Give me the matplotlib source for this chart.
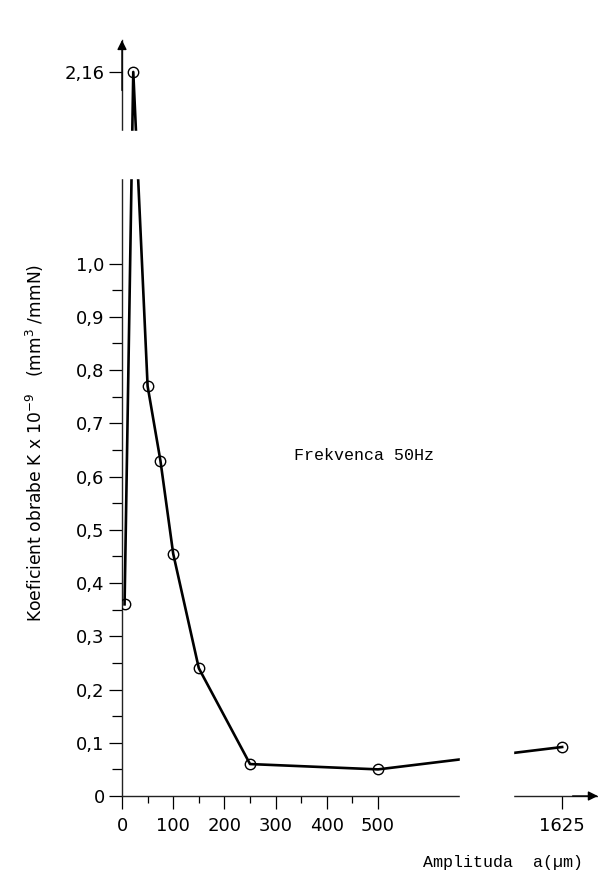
import numpy as np
import matplotlib
matplotlib.use('Agg')
import matplotlib.pyplot as plt
from matplotlib.patches import Rectangle
from matplotlib.transforms import blended_transform_factory

# values
amplituda = [5, 22, 50, 75, 100, 150, 250, 500, 1625]      # a (um)
koeficient = [0.36, 2.16, 0.77, 0.63, 0.455, 0.24, 0.06, 0.05, 0.092]

y_ticks = [0, 0.1, 0.2, 0.3, 0.4, 0.5, 0.6, 0.7, 0.8, 0.9, 1.0, 2.16]
y_labels = ['0', '0,1', '0,2', '0,3', '0,4', '0,5', '0,6', '0,7', '0,8', '0,9', '1,0', '2,16']
y_minor = [0.05, 0.15, 0.25, 0.35, 0.45, 0.55, 0.65, 0.75, 0.85, 0.95]
x_ticks = [0, 100, 200, 300, 400, 500, 1625]
x_labels = ['0', '100', '200', '300', '400', '500', '1625']
x_minor = [50, 150, 250, 350, 450]

# broken axes: (last value before gap, first value after gap, size of gap)
X_BREAK = (660, 1529, 103.5)
Y_BREAK = (1.16, 2.05, 0.09)

narrow = ['Liberation Sans Narrow', 'DejaVu Sans']
mono = ['Liberation Mono', 'DejaVu Sans Mono']


def make_scale(lo, hi, gap):
    # squeeze the range lo..hi into a short gap, keep the rest linear
    def fwd(v):
        v = np.asarray(v, dtype=float)
        return np.where(v <= lo, v,
                        np.where(v >= hi, v - hi + lo + gap,
                                 lo + (v - lo) * gap / (hi - lo)))

    def inv(u):
        u = np.asarray(u, dtype=float)
        return np.where(u <= lo, u,
                        np.where(u >= lo + gap, u - lo - gap + hi,
                                 lo + (u - lo) * (hi - lo) / gap))
    return fwd, inv


fig = plt.figure(figsize=(5.98, 8.76), dpi=100)
ax = fig.add_axes([122 / 598, 80 / 876, 476 / 598, 756 / 876])

ax.set_xscale('function', functions=make_scale(*X_BREAK))
ax.set_yscale('function', functions=make_scale(*Y_BREAK))
ax.set_xlim(0, 1695)
ax.set_ylim(0, 2.22)

ax.plot(amplituda, koeficient, color='black', lw=1.9, marker='o', ms=7.5,
        mfc='none', mec='black', mew=1.0, zorder=3)

for s in ['top', 'right']:
    ax.spines[s].set_visible(False)
for s in ['left', 'bottom']:
    ax.spines[s].set_linewidth(1.0)
    ax.spines[s].set_color('#222222')

ax.set_xticks(x_ticks)
ax.set_xticklabels(x_labels, family=narrow, fontsize=13)
ax.set_xticks(x_minor, minor=True)
ax.set_yticks(y_ticks)
ax.set_yticklabels(y_labels, family=narrow, fontsize=13)
ax.set_yticks(y_minor, minor=True)
ax.tick_params(axis='x', which='major', length=9, width=0.9, pad=6)
ax.tick_params(axis='x', which='minor', length=5, width=0.9)
ax.tick_params(axis='y', which='major', length=9.5, width=0.9, pad=3)
ax.tick_params(axis='y', which='minor', length=7, width=0.9)

# white bands that cut the axes where they are broken
trans_y = blended_transform_factory(ax.transAxes, ax.transData)
trans_x = blended_transform_factory(ax.transData, ax.transAxes)
ax.add_patch(Rectangle((-0.03, Y_BREAK[0]), 1.06, Y_BREAK[1] - Y_BREAK[0],
                       transform=trans_y, color='white', zorder=5, clip_on=False))
ax.add_patch(Rectangle((X_BREAK[0], -0.02), X_BREAK[1] - X_BREAK[0], 1.04,
                       transform=trans_x, color='white', zorder=5, clip_on=False))

# arrow heads on the axes
ax.annotate('', xy=(0, 2.225), xytext=(0, 2.12),
            arrowprops=dict(arrowstyle='-|>', color='black', lw=1.0, mutation_scale=14),
            annotation_clip=False, zorder=6)
ax.annotate('', xy=(1700, 0), xytext=(1640, 0),
            arrowprops=dict(arrowstyle='-|>', color='black', lw=1.0, mutation_scale=14),
            annotation_clip=False, zorder=6)

ax.text(335, 0.64, 'Frekvenca 50Hz', family=mono, fontsize=12, va='center', ha='left')

fig.text(35 / 598, 1 - 443 / 876,
         r'Koeficient obrabe K x 10$^{-9}$   (mm$^{3}$ /mmN)',
         family=narrow, fontsize=12.3, rotation=90, ha='center', va='center')
fig.text(423 / 598, 1 - 862 / 876, 'Amplituda  a(µm)', family=mono, fontsize=12,
         ha='left', va='center')

fig.savefig('out.png', dpi=100)
